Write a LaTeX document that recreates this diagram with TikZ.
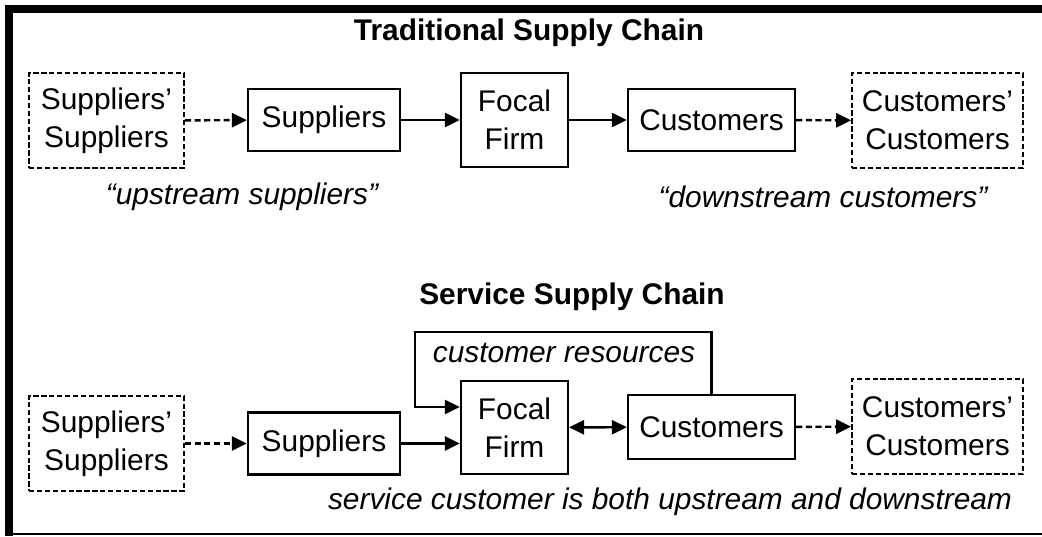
\documentclass[tikz,border=0pt]{standalone}
\usepackage{fontspec}
\setmainfont{Liberation Sans}
\usetikzlibrary{arrows.meta, positioning, calc}
\newcommand{\chainfont}{\fontsize{17}{21.5}\selectfont}
\tikzset{
    firm/.style={rectangle, draw, line width=1.3pt, align=center, inner sep=0pt, font=\chainfont},
    outer/.style={rectangle, draw, dash pattern=on 3pt off 1.5pt, line width=1pt, align=center, inner sep=0pt, minimum width=3.1cm, minimum height=1.9cm, font=\chainfont},
    flow/.style={-{Triangle[length=8.5pt, width=8pt]}, line width=1.4pt},
    dashflow/.style={flow, dash pattern=on 3.5pt off 2pt},
    twoway/.style={{Triangle[length=8.5pt, width=8pt]}-{Triangle[length=8.5pt, width=8pt]}, line width=1.4pt},
    title/.style={font=\chainfont\bfseries},
    remark/.style={font=\chainfont\itshape}
}

\begin{document}
\begin{tikzpicture}[x=0.02cm, y=-0.02cm]
    \useasboundingbox (0,0) rectangle (1042,537);

    % Frame
    \draw[line width=4pt] (1042,9) -- (9,9) -- (9,536);
    \draw[line width=1.2pt] (9,534) -- (1042,534);

    % Traditional chain
    \node[title] (t1) at (529,33) {Traditional Supply Chain};
    \node[outer] (ss1) at (106.5,120.5) {Suppliers’\\Suppliers};
    \node[firm, minimum width=3.04cm, minimum height=1.24cm] (sup1) at (324,120) {Suppliers};
    \node[firm, minimum width=2.14cm, minimum height=1.88cm] (foc1) at (514.5,120) {Focal\\Firm};
    \node[firm, minimum width=3.34cm, minimum height=1.24cm] (cus1) at (711.5,120) {Customers};
    \node[outer, minimum width=3.42cm] (cc1) at (937.5,120.5) {Customers’\\Customers};
    \node[remark] (up1) at (242,197) {“upstream suppliers”};
    \node[remark] (down1) at (823,197) {“downstream customers”};

    \draw[dashflow] (ss1) -- (sup1);
    \draw[flow] (sup1) -- (foc1);
    \draw[flow] (foc1) -- (cus1);
    \draw[dashflow] (cus1) -- (cc1);

    % Service chain
    \node[title] (t2) at (572,297) {Service Supply Chain};
    \node[outer] (ss2) at (106.5,443.5) {Suppliers’\\Suppliers};
    \node[firm, minimum width=3.04cm, minimum height=1.24cm] (sup2) at (324,443.5) {Suppliers};
    \node[firm, minimum width=2.14cm, minimum height=1.86cm] (foc2) at (514.5,427.5) {Focal\\Firm};
    \node[firm, minimum width=3.34cm, minimum height=1.28cm] (cus2) at (711.5,427) {Customers};
    \node[outer, minimum width=3.42cm] (cc2) at (937.5,426.5) {Customers’\\Customers};
    \node[remark] (res) at (564,353) {customer resources};
    \node[remark] (both) at (670,502) {service customer is both upstream and downstream};

    \draw[dashflow] (ss2) -- (sup2);
    \draw[flow] (sup2.east) -- (sup2.east -| foc2.west);
    \draw[twoway] (foc2) -- (cus2);
    \draw[dashflow] (cus2) -- (cc2);
    \draw[flow] (cus2.north) |- (415,332) |- ([yshift=0.41cm]foc2.west);
\end{tikzpicture}
\end{document}
